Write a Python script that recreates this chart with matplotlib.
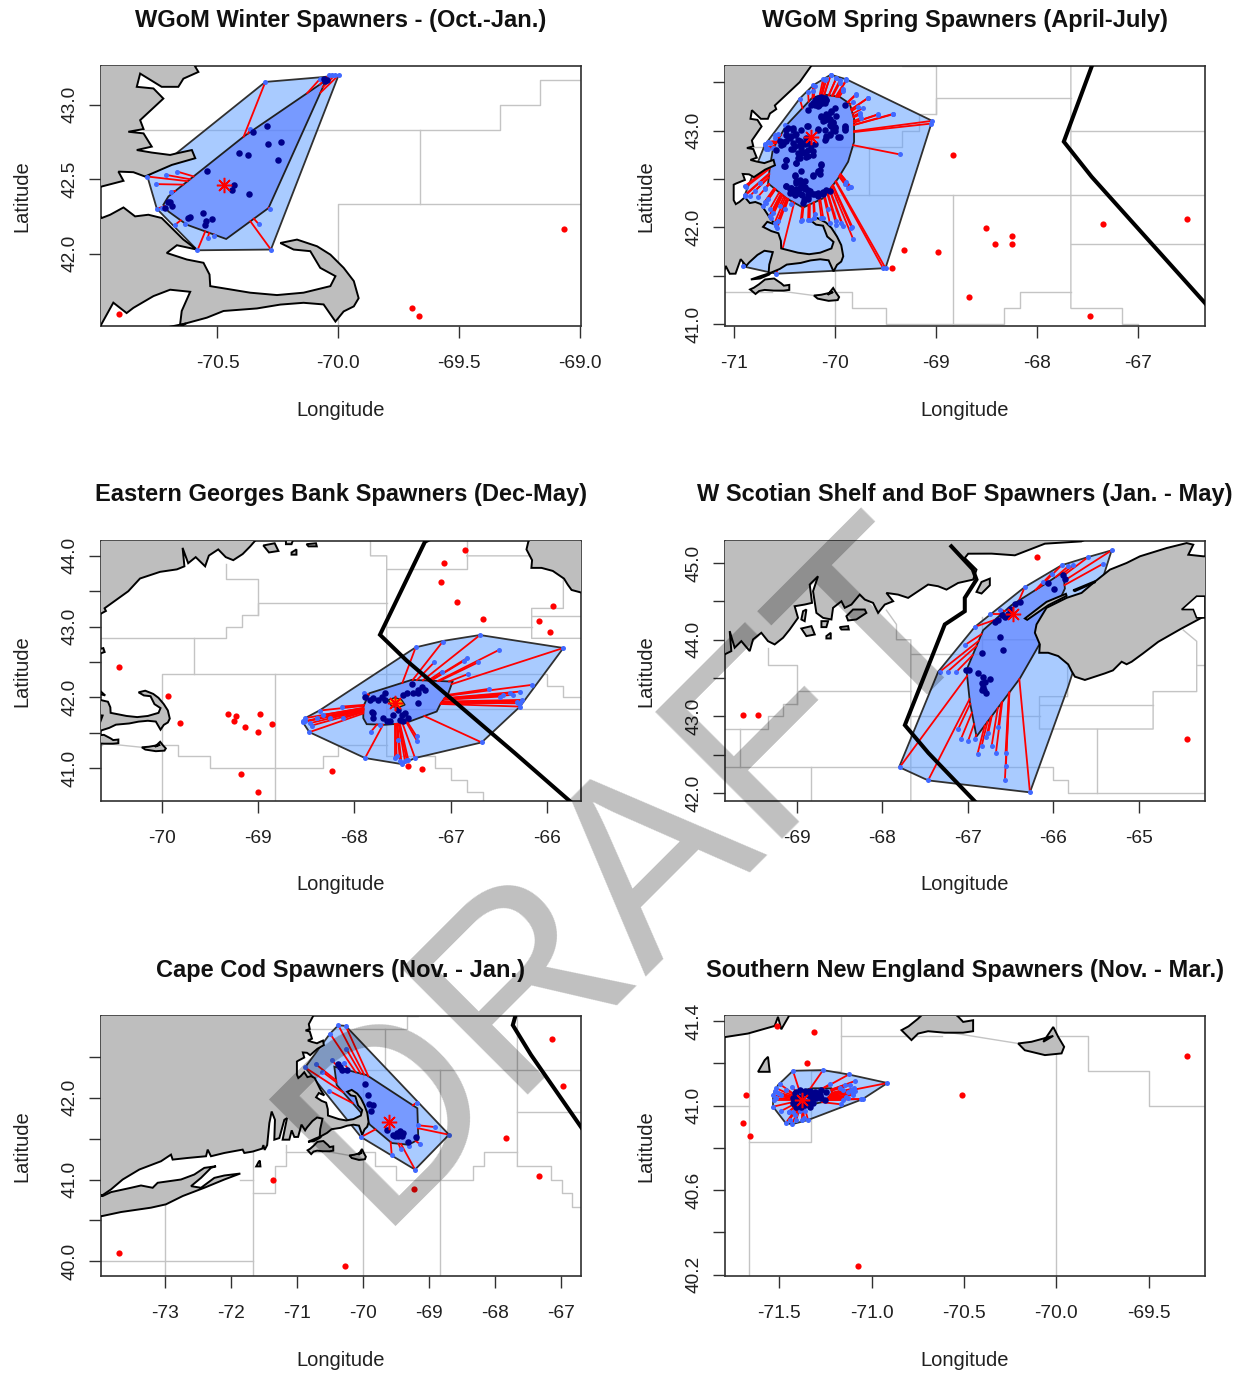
import matplotlib
matplotlib.use('Agg')
import matplotlib.pyplot as plt
import numpy as np

plt.rcParams['font.family'] = ['Liberation Sans', 'DejaVu Sans']

#shared map pieces, all lon/lat
mainland = [(-74.6,40.85),(-73.939,40.81),(-73.813,40.879),(-73.636,41.0),(-73.384,41.122),(-73.056,41.223),(-72.905,41.304),
    (-72.88,41.243),(-72.653,41.263),(-72.375,41.284),(-72.35,41.365),(-72.3,41.284),(-72.098,41.324),(-71.821,41.365),
    (-71.796,41.324),(-71.67,41.341),(-71.525,41.377),(-71.507,41.42),(-71.489,41.361),(-71.45,41.42),(-71.417,41.689),
    (-71.382,41.83),(-71.332,41.729),(-71.342,41.486),(-71.266,41.506),(-71.19,41.729),(-71.15,41.75),(-71.216,41.486),
    (-71.115,41.486),(-71.079,41.6),(-71.039,41.519),(-70.982,41.52),(-70.931,41.67),(-70.876,41.60),(-70.848,41.635),
    (-70.765,41.714),(-70.696,41.757),(-70.613,41.743),(-70.648,41.614),(-70.655,41.52),(-70.544,41.569),(-70.475,41.614),
    (-70.337,41.631),(-70.24,41.657),(-70.144,41.669),(-70.061,41.658),(-70.012,41.543),(-69.978,41.611),(-69.936,41.645),
    (-69.916,41.70),(-69.936,41.815),(-69.978,41.904),(-70.033,41.993),(-70.088,42.049),(-70.171,42.094),(-70.24,42.071),
    (-70.185,42.027),(-70.116,42.016),(-70.075,41.904),(-70.012,41.848),(-70.033,41.781),(-70.144,41.737),(-70.254,41.721),
    (-70.365,41.737),(-70.447,41.759),(-70.53,41.781),(-70.533,41.859),(-70.558,41.938),(-70.627,41.96),(-70.71,42.004),
    (-70.668,42.056),(-70.586,42.027),(-70.641,42.094),(-70.731,42.239),(-70.786,42.261),(-70.841,42.25),(-70.889,42.31),
    (-70.944,42.261),(-70.979,42.239),(-71.0,42.28),(-71.0,42.44),(-70.979,42.451),(-70.889,42.489),(-70.91,42.551),
    (-70.848,42.547),(-70.80,42.518),(-70.689,42.596),(-70.592,42.641),(-70.606,42.696),(-70.668,42.674),(-70.696,42.663),
    (-70.772,42.679),(-70.834,42.696),(-70.772,42.719),(-70.806,42.808),(-70.869,42.819),(-70.806,42.837),(-70.82,42.897),
    (-70.724,43.042),(-70.765,43.11),(-70.834,43.121),(-70.82,43.21),(-70.731,43.121),(-70.662,43.121),(-70.641,43.176),
    (-70.579,43.221),(-70.593,43.259),(-70.347,43.50),(-70.225,43.68),(-70.017,43.774),(-69.842,43.809),(-69.764,43.852),
    (-69.783,44.113),(-69.725,43.896),(-69.647,43.982),(-69.549,43.852),(-69.51,44.004),(-69.413,44.091),(-69.335,43.982),
    (-69.257,43.939),(-69.159,44.026),(-69.081,44.134),(-68.984,44.286),(-69.023,44.438),(-68.906,44.46),(-68.82,44.482),
    (-68.847,44.721),(-68.75,44.829),(-68.808,44.634),(-68.769,44.351),(-68.691,44.286),(-68.593,44.265),(-68.574,44.417),
    (-68.476,44.503),(-68.437,44.417),(-68.359,44.46),(-68.262,44.59),(-68.203,44.525),(-68.106,44.482),(-68.047,44.351),
    (-67.969,44.46),(-67.871,44.503),(-67.95,44.612),(-67.813,44.59),(-67.696,44.547),(-67.579,44.634),(-67.462,44.721),
    (-67.345,44.699),(-67.247,44.655),(-67.111,44.742),(-66.935,44.786),(-66.896,44.916),(-67.033,45.068),(-66.993,45.124),
    (-66.72,45.125),(-66.447,45.103),(-66.096,45.255),(-65.67,45.285),(-65.1,45.55),(-64.0,46.2),(-64.0,47.0),(-74.6,47.0)]
long_island = [(-74.6,40.5),(-73.939,40.555),(-73.661,40.603),(-73.208,40.656),(-72.981,40.697),(-72.728,40.798),(-72.401,40.899),
    (-72.098,41.0),(-71.856,41.073),(-72.098,41.049),(-72.249,41.02),(-72.451,40.899),(-72.602,40.919),(-72.451,41.02),
    (-72.3,41.142),(-72.224,41.162),(-72.401,41.142),(-72.552,41.061),(-72.754,41.0),(-73.107,40.96),(-73.182,40.899),
    (-73.359,40.927),(-73.51,40.899),(-73.813,40.846),(-73.939,40.798),(-74.6,40.8)]
nova_scotia = [(-64.0,45.09),(-64.243,45.09),(-64.418,45.111),(-64.36,45.242),(-64.438,45.263),(-64.672,45.198),(-64.984,45.09),
    (-65.14,45.003),(-65.335,44.916),(-65.53,44.742),(-65.667,44.612),(-65.842,44.547),(-66.077,44.417),(-66.194,44.2),
    (-66.213,44.091),(-66.155,43.939),(-66.162,43.83),(-66.057,43.83),(-65.94,43.787),(-65.823,43.678),(-65.784,43.592),
    (-65.745,43.518),(-65.628,43.475),(-65.394,43.561),(-65.3,43.6),(-65.198,43.713),(-65.14,43.68),(-65.081,43.713),
    (-64.95,43.82),(-64.769,43.974),(-64.496,44.148),(-64.242,44.30),(-64.0,44.3)]
digby_neck = [(-66.33,44.278),(-66.077,44.495),(-65.85,44.6),(-65.842,44.573),(-66.057,44.451),(-66.303,44.26)]
basin_shore = [(-65.764,44.647),(-65.511,44.764),(-65.511,44.75),(-65.745,44.635)]
mahone_bay = [(-64.321,44.569),(-64.223,44.569),(-64.223,44.286),(-64.321,44.286),(-64.36,44.395),(-64.496,44.395)]
vineyard = [(-70.838,41.357),(-70.784,41.31),(-70.748,41.341),(-70.694,41.352),(-70.604,41.345),(-70.504,41.345),(-70.45,41.352),
    (-70.45,41.404),(-70.504,41.396),(-70.53,41.42),(-70.60,41.47),(-70.69,41.46),(-70.75,41.41),(-70.80,41.375)]
nantucket = [(-70.206,41.294),(-70.17,41.262),(-70.061,41.239),(-69.971,41.247),(-69.957,41.278),(-69.989,41.325),(-70.016,41.372),
    (-70.07,41.302),(-70.016,41.33),(-70.134,41.302)]
block_island = [(-71.615,41.16),(-71.579,41.215),(-71.561,41.231),(-71.552,41.16)]
elizabeth = [(-70.83,41.46),(-70.72,41.50),(-70.63,41.53),(-70.65,41.51),(-70.74,41.47)]
grand_manan = [(-66.896,44.625),(-66.837,44.755),(-66.74,44.799),(-66.74,44.712),(-66.837,44.604)]
small_isles = [[(-68.418,44.308),(-68.34,44.395),(-68.203,44.395),(-68.184,44.351),(-68.301,44.265),(-68.398,44.252)],
    [(-68.945,44.147),(-68.827,44.178),(-68.788,44.069),(-68.886,44.048)],
    [(-68.71,44.243),(-68.632,44.243),(-68.652,44.165),(-68.71,44.165)],
    [(-68.652,44.048),(-68.601,44.091),(-68.601,44.017),(-68.652,44.017)],
    [(-68.496,44.165),(-68.398,44.178),(-68.39,44.134),(-68.476,44.134)],
    [(-68.925,44.373),(-68.886,44.395),(-68.906,44.243),(-68.945,44.265)]]

stat_lines = [
    [(-70.81,42.833),(-69.33,42.833),(-69.33,43.0),(-69.165,43.0),(-69.165,43.167),(-68.995,43.167),(-68.995,43.333),(-67.664,43.333)],
    [(-68.995,43.167),(-68.995,43.667),(-69.33,43.667),(-69.33,43.89)],
    [(-69.664,42.833),(-69.664,42.333)],
    [(-70.0,39.7),(-70.0,42.333),(-66.0,42.333),(-66.0,42.165),(-65.83,42.165),(-65.83,42.0),(-64.0,42.0)],
    [(-68.828,42.333),(-68.828,39.7)],
    [(-67.664,43.0),(-66.159,43.0)],
    [(-67.95,44.386),(-67.832,44.2),(-67.832,44.0),(-67.664,44.0),(-67.664,41.165)],
    [(-67.664,43.82),(-66.834,43.82),(-66.834,44.3)],
    [(-66.834,44.0),(-65.83,44.0),(-65.83,43.257),(-66.159,43.257),(-66.159,42.834),(-64.83,42.834),(-64.83,43.323),(-64.32,43.323),(-64.32,43.98),(-64.477,44.126)],
    [(-66.159,43.15),(-64.83,43.15)],
    [(-65.49,42.834),(-65.49,42.0)],
    [(-64.32,43.67),(-64.0,43.67)],
    [(-67.664,41.83),(-65.5,41.83)],
    [(-71.163,41.42),(-71.163,41.165),(-71.33,41.165),(-71.33,40.83),(-71.664,40.83)],
    [(-71.664,41.34),(-71.664,39.7)],
    [(-71.86,41.0),(-71.664,41.0)],
    [(-71.163,41.33),(-70.62,41.33)],
    [(-70.621,41.352),(-70.206,41.294)],
    [(-74.2,40.0),(-71.664,40.0)],
    [(-72.995,40.7),(-72.995,39.7)],
    [(-70.0,41.33),(-69.826,41.33),(-69.826,41.165),(-69.495,41.165),(-69.495,41.0),(-68.33,41.0),(-68.33,41.165),
     (-68.165,41.165),(-68.165,41.33),(-67.664,41.33)],
    [(-67.664,41.165),(-67.163,41.165),(-67.163,41.0),(-66.997,41.0),(-66.997,40.83),(-66.834,40.83),(-66.834,40.665),
     (-66.661,40.665),(-66.661,40.4)],
]
hague_line = [(-67.19,45.22),(-66.94,44.92),(-66.896,44.786),(-67.033,44.547),(-67.033,44.373),(-67.267,44.2),(-67.734,42.885),
    (-67.459,42.522),(-66.337,41.216),(-65.76,40.53)]

#Panel 1 - WGoM winter
p1_outer = [(-70.79,42.518),(-70.302,43.154),(-70.061,43.187),(-69.999,43.199),(-70.279,42.027),(-70.583,42.022),(-70.751,42.301)]
p1_inner = [(-70.051,43.165),(-70.289,42.306),(-70.464,42.098),(-70.627,42.194),(-70.703,42.283),(-70.724,42.328),(-70.703,42.384),(-70.389,42.79)]
p1_center = (-70.472,42.458)
p1_core = [(-70.354,42.819),(-70.296,42.857),(-70.238,42.752),(-70.29,42.737),(-70.409,42.679),(-70.374,42.663),(-70.25,42.632),
    (-70.545,42.554),(-70.432,42.464),(-70.441,42.426),(-70.37,42.40),(-70.562,42.275),(-70.523,42.232),(-70.548,42.217),
    (-70.551,42.194),(-70.613,42.243),(-70.62,42.239),(-70.696,42.35),(-70.703,42.35),(-70.689,42.317),(-70.717,42.306),
    (-70.061,43.176),(-70.047,43.165),(-70.057,43.158)]
p1_loop = [(-70.302,43.154),(-70.79,42.518),(-70.713,42.529),(-70.666,42.551),(-70.755,42.467),(-70.692,42.417),(-70.751,42.301),
    (-70.731,42.306),(-70.675,42.194),(-70.634,42.199),(-70.583,42.022),(-70.541,42.105),(-70.516,42.116),(-70.279,42.027),
    (-70.33,42.199),(-70.282,42.301),(-70.365,42.837),(-70.075,43.176),(-70.04,43.199),(-70.026,43.203),(-70.012,43.203),(-69.999,43.199)]
p1_out = [(-69.068,42.165),(-69.695,41.636),(-69.666,41.58),(-70.907,41.592)]

#Panel 2 - WGoM spring
p2_outer = [(-70.908,41.595),(-70.891,42.333),(-70.693,42.849),(-70.347,43.33),(-70.215,43.467),(-70.116,43.529),(-70.04,43.577),
    (-69.884,43.529),(-69.036,43.1),(-69.498,41.577),(-70.578,41.519)]
p2_inner = [(-70.198,43.347),(-70.099,43.371),(-69.95,43.347),(-69.852,43.278),(-69.809,43.124),(-69.809,42.883),(-69.868,42.677),
    (-69.967,42.505),(-70.116,42.299),(-70.314,42.203),(-70.479,42.299),(-70.66,42.454),(-70.644,42.608),(-70.611,42.814),
    (-70.479,43.055),(-70.231,43.33)]
p2_center = (-70.238,42.935)
p2_core = [(-70.198,43.313),(-70.165,43.337),(-70.132,43.347),(-70.099,43.337),(-70.182,43.278),(-70.149,43.302),(-70.116,43.313),
    (-70.083,43.313),(-70.158,43.261),(-70.125,43.285),(-70.231,43.261),(-70.132,43.141),(-70.083,43.175),(-70.033,43.192),
    (-70.099,43.124),(-70.05,43.124),(-70.017,43.089),(-70.05,43.055),(-70.0,43.038),(-70.017,43.003),(-70.05,42.952),
    (-70.083,42.918),(-69.901,43.038),(-69.894,43.014),(-69.894,43.261),(-69.967,42.935),(-70.264,43.21),(-70.271,43.048),
    (-70.165,43.014),(-70.099,43.003),(-70.413,43.021),(-70.479,42.952),(-70.446,42.918),(-70.396,42.952),(-70.363,42.90),
    (-70.314,42.866),(-70.512,42.883),(-70.413,42.866),(-70.347,42.849),(-70.264,42.866),(-70.528,42.849),(-70.578,42.797),
    (-70.479,43.003),(-70.413,42.814),(-70.33,42.763),(-70.297,42.78),(-70.363,42.711),(-70.281,42.729),(-70.38,42.66),
    (-70.215,42.746),(-70.264,42.797),(-70.479,42.694),(-70.502,42.632),(-70.132,42.643),(-70.149,42.591),(-70.396,42.54),
    (-70.215,42.533),(-70.165,42.574),(-70.479,42.43),(-70.429,42.402),(-70.446,42.351),(-70.38,42.454),(-70.347,42.488),
    (-70.314,42.471),(-70.297,42.419),(-70.363,42.385),(-70.396,42.333),(-70.323,42.333),(-70.304,42.282),(-70.264,42.316),
    (-70.215,42.34),(-70.165,42.351),(-70.116,42.368),(-70.083,42.385),(-70.264,42.385),(-70.33,42.419),
    (-70.214,43.285),(-70.181,43.319),(-70.149,43.337),(-70.115,43.337),(-70.082,43.319),(-70.198,43.268),(-70.149,43.285),
    (-70.099,43.285),(-70.165,43.251),(-70.132,43.148),(-70.099,43.113),(-70.066,43.165),(-70.033,43.199),(-70.0,43.233),
    (-70.115,43.096),(-70.05,43.113),(-70.017,43.079),(-70.0,43.027),(-69.984,43.148),(-70.033,43.044),(-69.901,43.044),
    (-69.901,43.01),(-69.951,42.931),(-70.082,42.941),(-70.05,42.959),(-70.099,42.9),(-70.0,42.993),
    (-70.462,43.027),(-70.412,43.01),(-70.33,43.01),(-70.478,42.89),(-70.429,42.941),(-70.38,42.959),(-70.346,42.89),
    (-70.297,42.856),(-70.396,42.838),(-70.429,42.804),(-70.28,42.924),(-70.33,42.821),(-70.231,42.838),(-70.198,42.856),
    (-70.462,42.941),(-70.511,42.856),(-70.545,42.89),(-70.165,43.01),(-70.264,43.051),
    (-70.363,42.763),(-70.297,42.77),(-70.264,42.735),(-70.214,42.787),(-70.346,42.718),(-70.478,42.691),(-70.38,42.66),
    (-70.495,42.632),(-70.33,42.581),(-70.132,42.649),(-70.165,42.581),(-70.149,42.546),(-70.214,42.536),(-70.396,42.529),
    (-70.478,42.426),(-70.445,42.392),(-70.412,42.357),(-70.38,42.478),(-70.33,42.46),(-70.297,42.478),(-70.346,42.409),
    (-70.297,42.392),(-70.264,42.34),(-70.33,42.34),(-70.297,42.289),(-70.313,42.254),(-70.264,42.289),(-70.198,42.34),
    (-70.165,42.323),(-70.115,42.34),(-70.05,42.374),(-70.429,42.409),(-70.38,42.392),(-70.247,42.374),(-70.363,42.357)]
p2_loop = [(-70.04,43.577),(-69.984,43.543),(-69.884,43.529),(-69.95,43.519),(-70.083,43.529),(-70.116,43.529),(-70.215,43.467),
    (-70.264,43.399),(-70.347,43.33),(-69.918,43.433),(-69.785,43.381),(-69.67,43.337),(-69.819,43.295),(-69.769,43.244),
    (-69.571,43.168),(-69.422,43.168),(-69.752,43.165),(-69.036,43.1),(-69.043,43.072),(-69.357,42.753),(-69.852,42.419),
    (-69.884,42.471),(-69.828,42.007),(-69.819,41.88),(-69.498,41.577),(-69.522,41.577),(-69.934,42.041),(-69.984,42.024),
    (-70.132,42.093),(-70.205,42.093),(-70.248,42.076),(-70.323,42.076),(-70.429,42.237),(-70.568,41.997),(-70.627,42.093),
    (-70.693,42.265),(-70.891,42.333),(-70.875,42.419),(-70.759,42.316),(-70.693,42.402),(-70.495,43.055),(-70.594,42.952),
    (-70.693,42.849),(-70.66,42.883),(-70.677,42.814),(-70.578,41.519),(-70.908,41.595),
    (-70.693,42.856),(-70.676,42.821),(-70.644,42.873),(-70.594,42.924),(-70.561,42.959),(-70.478,43.051),(-70.66,42.804),(-70.611,42.821),
    (-70.198,43.457),(-70.214,43.405),(-70.099,43.526),(-70.04,43.577),(-69.984,43.543),(-69.884,43.519),(-69.951,43.491),(-69.917,43.405),
    (-69.786,43.371),(-69.67,43.337),(-69.719,43.233),(-69.752,43.182),(-69.736,43.13),(-69.571,43.165),(-69.422,43.172),
    (-70.891,42.426),(-70.841,42.323),(-70.891,42.323),(-70.792,42.374),(-70.743,42.46),(-70.693,42.392),(-70.66,42.289),
    (-70.709,42.22),(-70.676,42.254),(-70.644,42.186),(-70.578,42.014),(-70.594,42.048),(-70.644,42.117),(-70.545,42.22),
    (-70.495,42.186),(-70.611,42.151),(-70.561,42.065),(-70.337,42.065),(-70.264,42.08),(-70.198,42.134),(-70.115,42.1),
    (-70.066,42.186),(-70.05,42.048),(-69.984,42.065),(-69.917,42.014),(-69.835,41.997),(-69.868,42.409),(-69.901,42.443),(-69.842,42.419)]
p2_out = [(-68.829,42.746),(-68.499,41.997),(-68.248,41.911),(-68.416,41.828),(-68.251,41.828),(-69.317,41.763),(-68.977,41.749),
    (-69.436,41.581),(-68.667,41.275),(-67.475,41.079),(-67.35,42.031),(-66.515,42.083)]

#Panel 3 - Eastern Georges Bank
p3_outer = [(-68.512,41.706),(-68.363,41.814),(-67.363,42.707),(-67.083,42.797),(-66.696,42.881),(-65.83,42.698),(-66.28,41.87),
    (-66.678,41.363),(-67.37,41.142),(-67.509,41.057),(-67.889,41.142),(-68.467,41.508),(-68.536,41.65)]
p3_inner = [(-67.844,42.058),(-67.405,42.247),(-66.98,42.223),(-67.024,42.058),(-67.111,41.894),(-67.145,41.8),(-67.474,41.635),
    (-67.682,41.612),(-67.872,41.621),(-67.907,41.706),(-67.907,41.87)]
p3_center = (-67.578,41.927)
p3_mid = [(-67.647,41.964),(-67.578,41.997),(-67.509,41.964),(-67.474,41.894),(-67.543,41.856),(-67.613,41.87)]
p3_core = [(-67.889,42.011),(-67.838,41.964),(-67.803,41.988),(-67.682,42.058),(-67.716,42.011),(-67.751,41.964),(-67.682,41.964),
    (-67.491,42.035),(-67.457,42.058),(-67.388,42.058),(-67.336,42.105),(-67.301,42.152),(-67.267,42.105),(-67.336,42.058),
    (-67.405,42.19),(-67.336,41.927),(-67.82,41.8),(-67.803,41.776),(-67.803,41.706),(-67.706,41.706),(-67.665,41.659),
    (-67.595,41.753),(-67.509,41.753),(-67.474,41.776),(-67.526,41.682),(-67.44,41.706),(-67.63,41.659),(-67.491,41.659),(-67.543,41.823)]
p3_loop = [(-68.512,41.706),(-68.53,41.659),(-68.536,41.65),(-68.357,41.814),(-68.467,41.508),(-68.443,41.602),(-68.512,41.659),
    (-68.114,41.706),(-68.125,41.87),(-67.889,41.142),(-67.831,41.508),(-67.578,41.142),(-67.509,41.057),(-67.543,41.391),
    (-67.44,41.118),(-67.37,41.142),(-67.353,41.447),(-67.346,41.377),(-66.678,41.363),(-66.28,41.87),(-66.263,41.964),
    (-66.28,42.082),(-66.35,42.035),(-66.454,42.035),(-66.159,42.176),(-66.602,42.12),(-67.363,42.707),(-67.083,42.787),
    (-67.17,42.496),(-66.834,42.552),(-66.858,42.519),(-66.713,42.496),(-66.817,42.331),(-66.499,42.67),(-66.696,42.881),
    (-65.83,42.698),(-67.9,42.058),(-67.094,42.364),(-67.734,41.612),
    (-66.384,42.058),(-66.298,41.917),(-66.28,41.917),(-66.315,41.94),(-66.488,42.011),
    (-68.46,41.635),(-68.391,41.706),(-68.322,41.753),(-68.253,41.706),
    (-67.561,41.165),(-67.474,41.095),(-67.457,41.118),(-67.526,41.095)]
p3_out = [(-66.851,44.08),(-67.066,43.892),(-67.104,43.624),(-66.938,43.342),(-66.668,43.102),(-65.934,43.29),(-66.083,43.079),
    (-65.969,42.919),(-70.443,42.435),(-69.931,42.026),(-69.813,41.635),(-69.315,41.767),(-69.228,41.739),(-69.253,41.659),
    (-69.135,41.579),(-68.976,41.762),(-68.997,41.504),(-68.858,41.626),(-69.177,40.911),(-68.997,40.667),(-68.228,40.954),
    (-67.44,41.024),(-67.294,40.987)]

#Panel 4 - W Scotian Shelf
p4_outer = [(-65.315,45.168),(-65.823,43.388),(-66.271,42.007),(-67.462,42.163),(-67.801,42.337),(-67.344,43.583),(-66.915,44.169),
    (-66.33,44.69),(-65.901,44.973),(-65.589,45.081)]
p4_inner = [(-65.862,44.669),(-66.154,43.952),(-66.388,43.496),(-66.896,42.736),(-66.974,43.192),(-67.013,43.605),(-66.818,44.126),
    (-66.486,44.452),(-66.057,44.755),(-65.881,44.886)]
p4_center = (-66.467,44.343)
p4_core = [(-65.881,44.842),(-65.862,44.799),(-66.057,44.742),(-65.994,44.669),(-66.388,44.495),(-66.447,44.473),(-66.506,44.408),
    (-66.525,44.343),(-66.564,44.291),(-66.642,44.256),(-66.681,44.234),(-66.603,44.321),(-66.619,44.039),(-66.584,43.865),
    (-66.837,43.831),(-66.985,43.605),(-67.013,43.605),(-66.884,43.561),(-66.818,43.518),(-66.74,43.483),(-66.798,43.453),
    (-66.837,43.431),(-66.818,43.388),(-66.837,43.344),(-66.779,43.31),(-66.806,43.344)]
p4_loop = [(-65.315,45.168),(-65.413,44.994),(-65.589,45.081),(-65.764,44.973),(-65.901,44.973),(-65.823,44.96),(-66.018,44.864),
    (-66.115,44.755),(-66.33,44.69),(-66.623,44.395),(-66.74,44.343),(-66.915,44.169),(-67.032,43.931),(-67.325,43.583),
    (-67.235,43.583),(-67.13,43.583),(-67.793,42.337),(-67.462,42.163),(-66.271,42.007),(-66.564,42.163),(-66.552,42.354),
    (-66.556,42.519),(-66.642,42.867),(-66.72,42.606),(-66.669,42.519),(-66.884,42.51),(-66.837,42.606),(-66.779,42.736),
    (-67.11,42.836),(-67.079,42.702),(-66.993,42.684),(-66.915,42.702),(-66.759,42.78)]
p4_out = [(-66.186,45.081),(-69.627,43.014),(-69.448,43.019),(-64.434,42.71)]

#Panel 5 - Cape Cod
p5_outer = [(-70.373,42.883),(-70.262,42.875),(-68.699,41.547),(-69.213,41.121),(-70.03,41.518),(-70.877,42.368),(-70.499,42.781)]
p5_inner = [(-70.434,42.377),(-70.398,42.154),(-70.045,41.83),(-69.894,41.668),(-69.566,41.445),(-69.314,41.425),(-69.163,41.486),
    (-69.178,41.87),(-69.945,42.275)]
p5_center = (-69.607,41.70)
p5_core = [(-70.373,42.405),(-70.313,42.336),(-70.247,42.336),(-70.348,42.377),(-69.97,42.166),(-69.919,42.032),(-69.904,41.919),
    (-69.844,41.911),(-69.879,41.838),(-69.541,41.547),(-69.491,41.567),(-69.44,41.587),(-69.39,41.567),(-69.465,41.526),
    (-69.516,41.526),(-69.314,41.457),(-69.203,41.514),(-69.642,41.607),(-69.415,41.526)]
p5_loop = [(-70.373,42.883),(-70.262,42.875),(-70.499,42.781),(-70.877,42.368),(-70.711,42.405),(-70.615,42.316),(-70.474,42.458),
    (-70.287,42.417),(-70.509,42.081),(-70.257,42.599),(-69.188,41.939),(-69.163,41.66),(-68.911,41.64),(-68.699,41.547),
    (-69.138,41.433),(-69.213,41.121),(-69.299,41.405),(-69.43,41.376),(-69.566,41.304),(-70.03,41.518)]
p5_out = [(-67.146,42.721),(-66.974,42.146),(-67.832,41.502),(-67.337,41.048),(-69.223,40.878),(-71.367,41.0),(-73.691,40.101),(-70.272,39.943)]

#Panel 6 - Southern New England
p6_outer = [(-70.914,41.107),(-71.05,41.03),(-71.344,40.932),(-71.431,40.912),(-71.465,40.917),(-71.534,40.995),(-71.534,41.05),
    (-71.507,41.097),(-71.426,41.165),(-71.263,41.168),(-71.128,41.148)]
p6_inner = [(-71.429,41.058),(-71.326,41.082),(-71.218,41.082),(-71.214,41.058),(-71.254,41.019),(-71.426,40.987)]
p6_center = (-71.375,41.027)
p6_core = [(-71.417,41.058),(-71.399,41.042),(-71.417,41.019),(-71.408,40.995),(-71.39,41.003),(-71.372,41.058),(-71.344,41.05),
    (-71.326,41.035),(-71.317,41.011),(-71.335,40.995),(-71.299,41.035),(-71.281,41.05),(-71.272,41.074),(-71.254,41.027),
    (-71.29,41.058),(-71.353,41.019),(-71.381,41.035),(-71.308,41.066),
    (-71.426,41.035),(-71.408,41.066),(-71.39,41.074),(-71.362,41.069),(-71.335,41.069),(-71.308,41.05),(-71.362,41.003),
    (-71.381,40.995),(-71.344,41.011),(-71.317,41.05),(-71.272,41.035),(-71.245,41.066),(-71.408,41.027),(-71.426,41.011)]
p6_loop = [(-70.914,41.107),(-71.046,41.031),(-71.091,41.116),(-71.122,41.148),(-71.263,41.168),(-71.426,41.165),(-71.498,41.102),
    (-71.516,41.082),(-71.525,41.069),(-71.534,41.05),(-71.529,41.027),(-71.534,40.995),(-71.489,40.975),(-71.449,40.969),
    (-71.465,40.917),(-71.431,40.912),(-71.408,40.932),(-71.366,40.94),(-71.344,40.932),(-71.164,41.006),(-71.128,41.035),
    (-71.1,41.058),(-71.095,41.082),(-71.155,41.074),(-71.227,41.101),(-71.431,41.09),
    (-71.119,41.097),(-71.11,41.074),(-71.128,41.063),(-71.137,41.042),(-71.155,41.027),(-71.1,41.05),(-71.146,41.097),
    (-71.173,41.085),(-71.091,41.069),(-71.055,41.031),(-71.507,41.058),(-71.516,41.035),(-71.489,41.05),(-71.462,41.074),
    (-71.449,40.972),(-71.426,40.972),(-71.39,40.975),(-71.362,40.975),(-71.444,40.932),(-71.417,40.956),(-71.377,40.932)]
p6_out = [(-71.512,41.377),(-71.312,41.35),(-71.348,41.2),(-71.682,41.05),(-71.697,40.917),(-71.657,40.854),(-70.508,41.05),
    (-71.072,40.24),(-69.292,41.234)]

titles = ['WGoM Winter Spawners - (Oct.-Jan.)', 'WGoM Spring Spawners (April-July)',
          'Eastern Georges Bank Spawners (Dec-May)', 'W Scotian Shelf and BoF Spawners (Jan. - May)',
          'Cape Cod Spawners (Nov. - Jan.)', 'Southern New England Spawners (Nov. - Mar.)']
xticks = [[-70.5,-70,-69.5,-69], [-71,-70,-69,-68,-67], [-70,-69,-68,-67,-66], [-69,-68,-67,-66,-65],
          [-73,-72,-71,-70,-69,-68,-67], [-71.5,-71,-70.5,-70,-69.5]]
xlabels = [['-70.5','-70.0','-69.5','-69.0'], ['-71','-70','-69','-68','-67'], ['-70','-69','-68','-67','-66'],
           ['-69','-68','-67','-66','-65'], ['-73','-72','-71','-70','-69','-68','-67'],
           ['-71.5','-71.0','-70.5','-70.0','-69.5']]
yticks = [[42,42.5,43], [41,41.5,42,42.5,43,43.5], [41,41.5,42,42.5,43,43.5,44], [42,42.5,43,43.5,44,44.5,45],
          [40,40.5,41,41.5,42,42.5], [40.2,40.4,40.6,40.8,41,41.2,41.4]]
ylabels = [['42.0','42.5','43.0'], ['41.0','','42.0','','43.0',''], ['41.0','','42.0','','43.0','','44.0'],
           ['42.0','','43.0','','44.0','','45.0'], ['40.0','','41.0','','42.0',''],
           ['40.2','','40.6','','41.0','','41.4']]
xlims = [(-70.982,-68.996), (-71.086,-66.337), (-70.63,-65.647), (-69.838,-64.223), (-73.964,-66.702), (-71.794,-69.194)]
ylims = [(41.513,43.261), (40.979,43.667), (40.535,44.21), (41.894,45.29), (39.822,42.996), (40.194,41.424)]
outers = [p1_outer, p2_outer, p3_outer, p4_outer, p5_outer, p6_outer]
inners = [p1_inner, p2_inner, p3_inner, p4_inner, p5_inner, p6_inner]
centers = [p1_center, p2_center, p3_center, p4_center, p5_center, p6_center]
cores = [p1_core, p2_core, p3_core, p4_core, p5_core, p6_core]
loops = [p1_loop, p2_loop, p3_loop, p4_loop, p5_loop, p6_loop]
outs = [p1_out, p2_out, p3_out, p4_out, p5_out, p6_out]


def whiskerEnd(pt, center, poly):
    #first crossing of the bag outline going from pt toward the center
    p = np.array(pt)
    d = np.array(center) - p
    best = None
    for i in range(len(poly)):
        a = np.array(poly[i])
        e = np.array(poly[(i + 1) % len(poly)]) - a
        den = d[0] * e[1] - d[1] * e[0]
        if den == 0:
            continue
        t = ((a[0] - p[0]) * e[1] - (a[1] - p[1]) * e[0]) / den
        u = ((a[0] - p[0]) * d[1] - (a[1] - p[1]) * d[0]) / den
        if 0 <= t <= 1 and 0 <= u <= 1 and (best is None or t < best):
            best = t
    if best is None:
        return pt
    return tuple(p + best * d)


def drawPoly(ax, pts, **kw):
    xs, ys = zip(*pts)
    ax.fill(xs, ys, **kw)


def drawPanel(ax, i):
    for seg in stat_lines:
        xs, ys = zip(*seg)
        ax.plot(xs, ys, color='#c4c4c4', lw=1.0, zorder=1)
    drawPoly(ax, outers[i], facecolor=(0.39, 0.63, 1.0, 0.55), edgecolor='#303030', lw=1.3, zorder=2)
    drawPoly(ax, inners[i], facecolor=(0.34, 0.48, 1.0, 0.6), edgecolor='#202020', lw=1.3, zorder=2.1)
    for pt in loops[i]:
        end = whiskerEnd(pt, centers[i], inners[i])
        ax.plot([pt[0], end[0]], [pt[1], end[1]], color='red', lw=1.3, zorder=3)
    for land in [mainland, long_island, nova_scotia, digby_neck, basin_shore, vineyard, nantucket, block_island, elizabeth, grand_manan] + small_isles:
        drawPoly(ax, land, facecolor='#bebebe', edgecolor='black', lw=1.4, zorder=4)
    drawPoly(ax, mahone_bay, facecolor='white', edgecolor='black', lw=1.2, zorder=4.1)
    xs, ys = zip(*hague_line)
    ax.plot(xs, ys, color='black', lw=2.9, zorder=5, solid_joinstyle='miter')
    xs, ys = zip(*loops[i])
    ax.scatter(xs, ys, s=13, color='#4169ff', lw=0, zorder=6)
    xs, ys = zip(*cores[i])
    ax.scatter(xs, ys, s=22, color='#00008b', lw=0, zorder=7)
    xs, ys = zip(*outs[i])
    ax.scatter(xs, ys, s=20, color='red', lw=0, zorder=7)
    if i == 2:
        drawPoly(ax, p3_mid, facecolor='#ffa500', edgecolor='#202020', lw=1.0, zorder=7.5)
    ax.plot(*centers[i], marker=(8, 2, 0), ms=11, mew=1.1, color='red', ls='none', zorder=8)

    ax.set_xlim(xlims[i])
    ax.set_ylim(ylims[i])
    ax.set_xticks(xticks[i])
    ax.set_xticklabels(xlabels[i])
    ax.set_yticks(yticks[i])
    ax.set_yticklabels(ylabels[i], rotation=90, va='center')
    ax.tick_params(length=8.5, width=1.0, color='#303030', labelsize=13.8, labelcolor='#202020')
    ax.tick_params(axis='x', pad=12.5)
    ax.tick_params(axis='y', pad=8)
    for sp in ax.spines.values():
        sp.set_linewidth(1.2)
        sp.set_color('#303030')
    ax.text(0.5, -84 / 260, 'Longitude', transform=ax.transAxes, ha='center', va='center', fontsize=14.5, color='#202020')
    ax.text(-79.5 / 480, 0.5, 'Latitude', transform=ax.transAxes, ha='center', va='center', rotation=90, fontsize=14.5, color='#202020')
    ax.text(0.5, 1 + 46 / 260, titles[i], transform=ax.transAxes, ha='center', va='center', fontsize=17.05, fontweight='bold', color='#111111')


W, H = 1243, 1373
fig = plt.figure(figsize=(W / 100, H / 100), dpi=100)
lefts = [101, 725]
tops = [66, 541, 1016]
for n in range(6):
    left = lefts[n % 2]
    top = tops[n // 2]
    ax = fig.add_axes([left / W, 1 - (top + 260) / H, 480 / W, 260 / H])
    drawPanel(ax, n)

fig.text(374 / W, 1 - 1226 / H, 'DRAFT', rotation=45, rotation_mode='anchor', ha='left', va='baseline',
         fontsize=187, color='black', alpha=0.25, zorder=20)

fig.savefig('out.png', dpi=100)
